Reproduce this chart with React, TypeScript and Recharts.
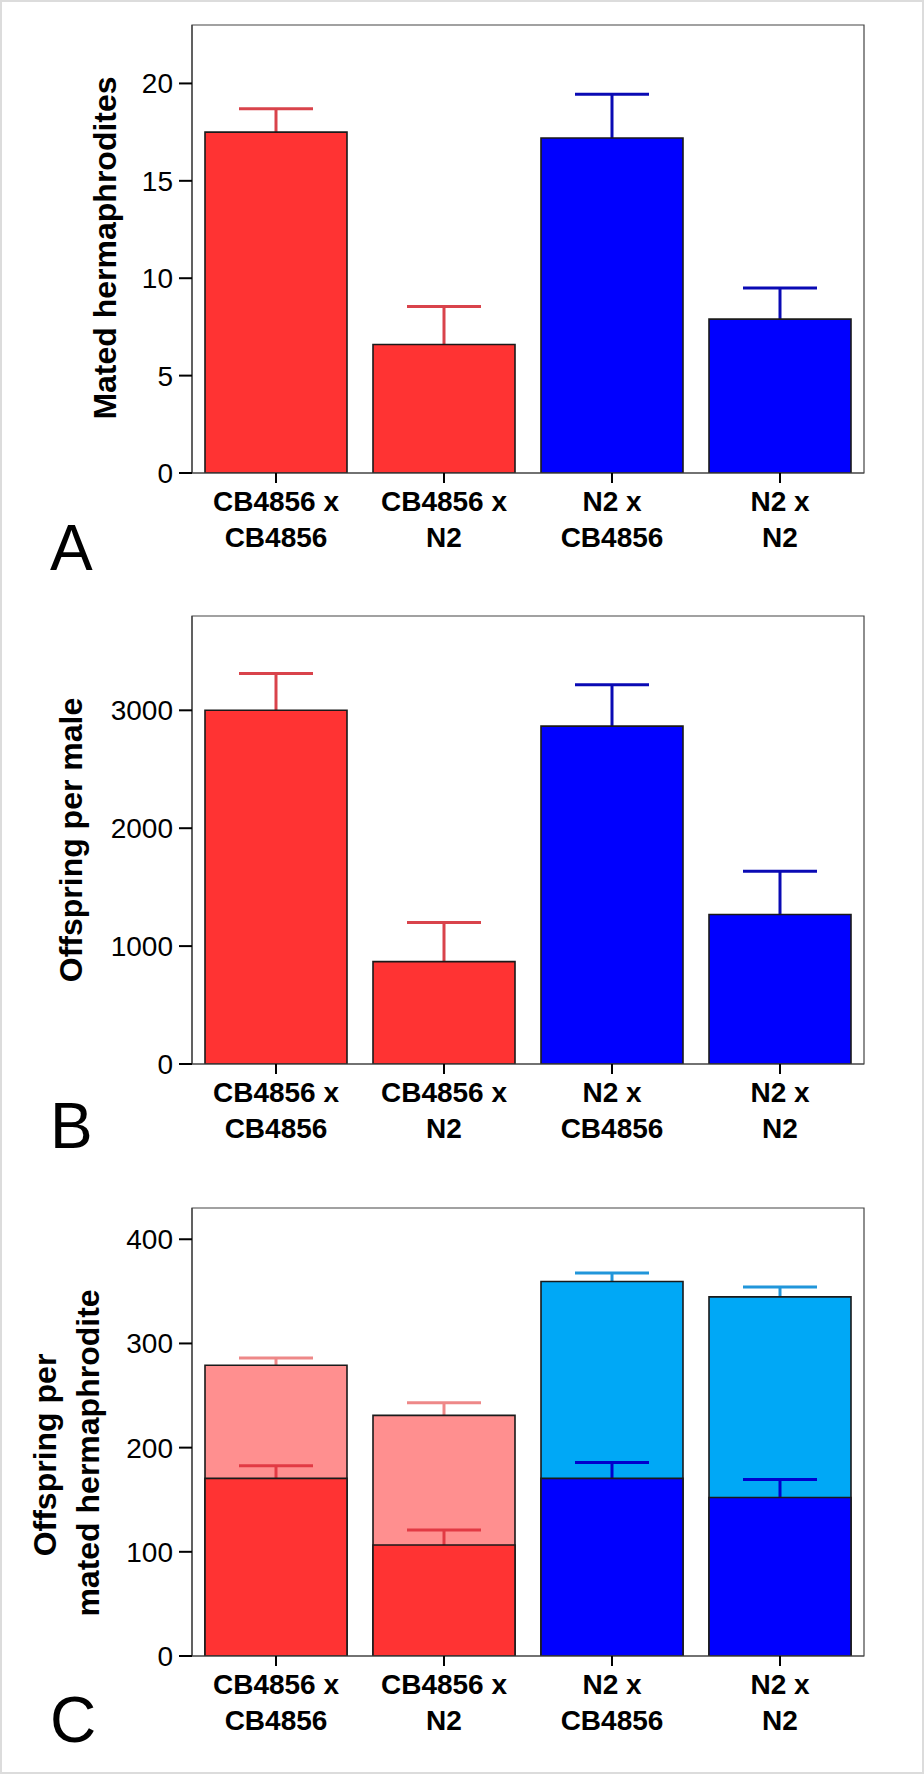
import React from 'react';
import { BarChart, Bar, XAxis, YAxis, ErrorBar, ReferenceArea, Cell } from 'recharts';

// ---------- data ----------
const categories = ['CB4856 x\nCB4856', 'CB4856 x\nN2', 'N2 x\nCB4856', 'N2 x\nN2'];
const maleStrain = ['CB4856', 'CB4856', 'N2', 'N2'];

// Panel A: mated hermaphrodites
const matedMeans = [17.5, 6.6, 17.2, 7.9];
const matedErrors = [1.2, 1.95, 2.25, 1.6];
const matedTicks = [0, 5, 10, 15, 20];

// Panel B: offspring per male
const offspringMaleMeans = [3000, 868, 2866, 1268];
const offspringMaleErrors = [312, 333, 350, 366];
const offspringMaleTicks = [0, 1000, 2000, 3000];

// Panel C: offspring per mated hermaphrodite (total, and cross progeny)
const totalPerHermMeans = [279, 231, 359.5, 344.7];
const totalPerHermErrors = [7, 12, 8, 9.5];
const crossPerHermMeans = [170.5, 106.5, 170.5, 152.2];
const crossPerHermErrors = [12, 14.5, 15.3, 17.2];
const perHermTicks = [0, 100, 200, 300, 400];

// ---------- styles ----------
const FONT = '"Liberation Sans", Arial, Helvetica, sans-serif';
const RED = '#FF3333';
const BLUE = '#0000FF';
const LIGHT_RED = '#FF8F8F';
const LIGHT_BLUE = '#00A8F6';

type SeriesDef = {
  means: number[];
  errors: number[];
  fillRed: string;
  fillBlue: string;
  errRed: string;
  errBlue: string;
};

function buildRows(series: SeriesDef[]) {
  return categories.map((cat, i) => {
    const row: any = { cat };
    series.forEach((s, k) => {
      const isRed = maleStrain[i] === 'CB4856';
      row[`m${k}`] = s.means[i];
      row[`rm${k}`] = isRed ? s.means[i] : null;
      row[`re${k}`] = isRed ? s.errors[i] : null;
      row[`bm${k}`] = isRed ? null : s.means[i];
      row[`be${k}`] = isRed ? null : s.errors[i];
    });
    return row;
  });
}

const XTick = (props: any) => {
  const { x, y, payload } = props;
  const lines = String(payload.value).split('\n');
  return (
    <g>
      <text textAnchor="middle" fontFamily={FONT} fontWeight="bold" fontSize={28} fill="#000">
        {lines.map((l, i) => (
          <tspan key={i} x={x} y={y + 28 + i * 36}>
            {l}
          </tspan>
        ))}
      </text>
    </g>
  );
};

type PanelProps = {
  height: number;
  top: number;
  xAxisHeight: number;
  yMax: number;
  ticks: number[];
  series: SeriesDef[];
};

const BAR_SIZE = 142;

function Panel({ height, top, xAxisHeight, yMax, ticks, series }: PanelProps) {
  const rows = buildRows(series);
  const items: React.ReactNode[] = [];
  series.forEach((s, k) => {
    const z = 300 + k * 40;
    items.push(
      <Bar key={`gr${k}`} xAxisId={`gr${k}`} dataKey={`rm${k}`} fill="none" stroke="none"
        barSize={BAR_SIZE} isAnimationActive={false} zIndex={z}>
        <ErrorBar dataKey={`re${k}`} width={37} stroke={s.errRed} strokeWidth={3} zIndex={z + 5} />
      </Bar>
    );
    items.push(
      <Bar key={`gb${k}`} xAxisId={`gb${k}`} dataKey={`bm${k}`} fill="none" stroke="none"
        barSize={BAR_SIZE} isAnimationActive={false} zIndex={z + 1}>
        <ErrorBar dataKey={`be${k}`} width={37} stroke={s.errBlue} strokeWidth={3} zIndex={z + 6} />
      </Bar>
    );
    items.push(
      <Bar key={`v${k}`} xAxisId={`v${k}`} dataKey={`m${k}`} stroke="#1a1a1a" strokeWidth={1.6}
        barSize={BAR_SIZE} isAnimationActive={false} zIndex={z + 20}>
        {rows.map((_, i) => (
          <Cell key={i} fill={maleStrain[i] === 'CB4856' ? s.fillRed : s.fillBlue} />
        ))}
      </Bar>
    );
  });

  const hiddenAxes: React.ReactNode[] = [];
  series.forEach((_, k) => {
    ['gr', 'gb', 'v'].forEach((p) => {
      hiddenAxes.push(<XAxis key={`${p}${k}`} xAxisId={`${p}${k}`} dataKey="cat" hide />);
    });
  });

  return (
    <BarChart
      width={924}
      height={height}
      data={rows}
      margin={{ top, right: 60, bottom: 0, left: 0 }}
    >
      <XAxis
        dataKey="cat"
        height={xAxisHeight}
        interval={0}
        tick={<XTick />}
        tickSize={10}
        tickMargin={0}
        axisLine={{ stroke: '#444', strokeWidth: 1.2 }}
        tickLine={{ stroke: '#000', strokeWidth: 2 }}
      />
      {hiddenAxes}
      <YAxis
        width={192}
        domain={[0, yMax]}
        ticks={ticks}
        allowDataOverflow
        tickSize={13}
        tickMargin={6}
        tick={{ fontSize: 28, fill: '#000', fontFamily: FONT }}
        axisLine={{ stroke: '#444', strokeWidth: 1.2 }}
        tickLine={{ stroke: '#000', strokeWidth: 2 }}
      />
      <ReferenceArea y1={0} y2={yMax} fill="none" stroke="#444" strokeWidth={1.2} ifOverflow="visible" />
      {items}
    </BarChart>
  );
}

const titleStyle = { fontFamily: FONT, fontWeight: 'bold' as const, fontSize: 32, fill: '#000' };
const letterStyle = { fontFamily: FONT, fontSize: 64, fill: '#000' };

function RotTitle({ x, cy, text }: { x: number; cy: number; text: string }) {
  return (
    <text x={x} y={cy} transform={`rotate(-90, ${x}, ${cy})`} textAnchor="middle" {...titleStyle}>
      {text}
    </text>
  );
}

export default function App() {
  return (
    <div
      style={{
        position: 'absolute',
        left: 0,
        top: 0,
        width: 924,
        height: 1774,
        background: '#fff',
        overflow: 'hidden',
      }}
    >
      <div style={{ position: 'absolute', left: 0, top: 0 }}>
        <Panel
          height={590}
          top={25}
          xAxisHeight={117}
          yMax={23}
          ticks={matedTicks}
          series={[
            { means: matedMeans, errors: matedErrors, fillRed: RED, fillBlue: BLUE, errRed: '#D9434B', errBlue: '#0A0AB4' },
          ]}
        />
      </div>
      <div style={{ position: 'absolute', left: 0, top: 590 }}>
        <Panel
          height={590}
          top={26}
          xAxisHeight={116}
          yMax={3800}
          ticks={offspringMaleTicks}
          series={[
            { means: offspringMaleMeans, errors: offspringMaleErrors, fillRed: RED, fillBlue: BLUE, errRed: '#D9434B', errBlue: '#0A0AB4' },
          ]}
        />
      </div>
      <div style={{ position: 'absolute', left: 0, top: 1180 }}>
        <Panel
          height={594}
          top={28}
          xAxisHeight={118}
          yMax={430}
          ticks={perHermTicks}
          series={[
            { means: totalPerHermMeans, errors: totalPerHermErrors, fillRed: LIGHT_RED, fillBlue: LIGHT_BLUE, errRed: '#EE8888', errBlue: '#2196DA' },
            { means: crossPerHermMeans, errors: crossPerHermErrors, fillRed: RED, fillBlue: BLUE, errRed: '#E23A44', errBlue: '#0000CC' },
          ]}
        />
      </div>
      <svg
        width={924}
        height={1774}
        style={{ position: 'absolute', left: 0, top: 0, pointerEvents: 'none' }}
      >
        <RotTitle x={116} cy={248} text="Mated hermaphrodites" />
        <RotTitle x={82} cy={840} text="Offspring per male" />
        <RotTitle x={56} cy={1455} text="Offspring per" />
        <RotTitle x={99} cy={1453} text="mated hermaphrodite" />
        <text x={50} y={570} {...letterStyle}>A</text>
        <text x={50} y={1148} {...letterStyle}>B</text>
        <text x={50} y={1742} {...letterStyle}>C</text>
        <rect x={1} y={1} width={922} height={1772} fill="none" stroke="#dcdcdc" strokeWidth={2} />
      </svg>
    </div>
  );
}
